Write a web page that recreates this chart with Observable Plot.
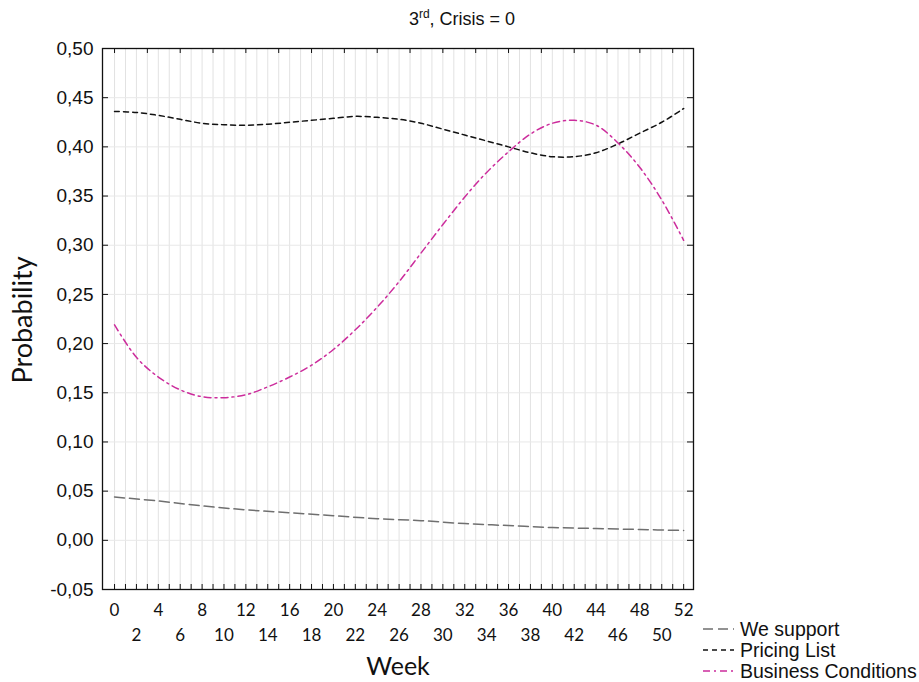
<!DOCTYPE html>
<html><head><meta charset="utf-8">
<script src="https://cdn.jsdelivr.net/npm/d3@7"></script>
<script src="https://cdn.jsdelivr.net/npm/@observablehq/plot@0.6"></script>
<style>body{margin:0;background:#fff}</style>
</head><body><div id="chart"></div>
<script>
const weeksA = [0, 4, 8, 12, 16, 20, 24, 28, 32, 36, 40, 44, 48, 52];
const weSupport = [0.044, 0.040, 0.035, 0.031, 0.028, 0.025, 0.022, 0.020, 0.017, 0.015, 0.013, 0.012, 0.011, 0.010];
const weeksB = [0, 2, 4, 6, 8, 10, 12, 14, 16, 18, 20, 22, 24, 26, 28, 30, 32, 34, 36, 38, 40, 42, 44, 46, 48, 50, 52];
const pricingList = [0.436, 0.435, 0.432, 0.428, 0.424, 0.4225, 0.422, 0.423, 0.425, 0.427, 0.429, 0.431, 0.430, 0.428, 0.424, 0.418, 0.412, 0.406, 0.400, 0.394, 0.390, 0.390, 0.394, 0.403, 0.414, 0.425, 0.439];
const businessConditions = [0.219, 0.186, 0.166, 0.153, 0.146, 0.145, 0.148, 0.156, 0.166, 0.178, 0.194, 0.214, 0.237, 0.263, 0.292, 0.321, 0.349, 0.374, 0.395, 0.413, 0.424, 0.427, 0.422, 0.404, 0.379, 0.346, 0.305];
const seriesNames = ["We support", "Pricing List", "Business Conditions"];
const seriesColors = ["#6f6f6f", "#111111", "#cc2c9c"];
const seriesDash = ["10,5", "5,4", "7,4,2,4"];
const yTicks = [-0.05, 0, 0.05, 0.10, 0.15, 0.20, 0.25, 0.30, 0.35, 0.40, 0.45, 0.50];
const xTicksRow1 = [0, 4, 8, 12, 16, 20, 24, 28, 32, 36, 40, 44, 48, 52];
const xTicksRow2 = [2, 6, 10, 14, 18, 22, 26, 30, 34, 38, 42, 46, 50];
const allWeeks = d3.range(0, 53);

const rows = [
  ...weeksA.map((w, i) => ({week: w, p: weSupport[i], s: seriesNames[0]})),
  ...weeksB.map((w, i) => ({week: w, p: pricingList[i], s: seriesNames[1]})),
  ...weeksB.map((w, i) => ({week: w, p: businessConditions[i], s: seriesNames[2]}))
];

const W = 919, H = 682, mL = 102, mR = 226, mT = 48, mB = 93;
const fw = W - mL - mR, fh = H - mT - mB;
const fmt = d => d.toFixed(2).replace(".", ",").replace("-0,00", "0,00");

const lineMarks = seriesNames.map((n, i) =>
  Plot.line(rows.filter(r => r.s === n), {x: "week", y: "p", stroke: seriesColors[i], strokeWidth: 1.5, strokeDasharray: seriesDash[i], curve: "catmull-rom"})
);

const chart = Plot.plot({
  width: W, height: H,
  marginLeft: mL, marginRight: mR, marginTop: mT, marginBottom: mB,
  style: {background: "#fff", color: "#111"},
  x: {domain: [-1.1, 52.9], axis: null},
  y: {domain: [-0.05, 0.5], axis: null},
  marks: [
    Plot.ruleX(allWeeks, {x: d => d, stroke: "#e2e2e2", strokeWidth: 1}),
    Plot.ruleY(yTicks, {y: d => d, stroke: "#e8e8e8", strokeWidth: 1}),
    ...lineMarks,
    Plot.ruleX(allWeeks, {x: d => d, stroke: "#111", insetTop: fh - 5}),
    Plot.ruleX(allWeeks.filter(d => d % 3 === 0), {x: d => d, stroke: "#111", insetBottom: fh - 5}),
    Plot.ruleY(yTicks, {y: d => d, stroke: "#111", insetRight: fw - 6}),
    Plot.ruleY(yTicks, {y: d => d, stroke: "#111", insetLeft: fw - 6}),
    Plot.frame({stroke: "#111", strokeWidth: 1.3}),
    Plot.axisY({ticks: yTicks, tickFormat: fmt, tickSize: 0, tickPadding: 9, fontSize: 19, fontFamily: "Liberation Sans, Arial, sans-serif", label: null}),
    Plot.axisX({ticks: xTicksRow1, tickFormat: d => String(d), tickSize: 0, tickPadding: 14, fontSize: 17, fontFamily: "Lato, sans-serif", label: null}),
    Plot.axisX({ticks: xTicksRow2, tickFormat: d => String(d), tickSize: 0, tickPadding: 39, fontSize: 17, fontFamily: "Lato, sans-serif", label: null})
  ]
});
document.getElementById("chart").appendChild(chart);

const svg = d3.select(chart);
const AR = "Liberation Sans, Arial, sans-serif";
// title
const t = svg.append("text").attr("x", 462).attr("y", 25)
  .style("text-anchor", "middle").style("font-family", AR).style("font-size", "18px").style("fill", "#111");
t.append("tspan").text("3");
t.append("tspan").style("font-size", "12px").attr("dy", -7).text("rd");
t.append("tspan").attr("dy", 7).text(", Crisis = 0");
// axis labels
svg.append("text").attr("x", 398).attr("y", 675)
  .style("text-anchor", "middle").style("font-family", "Lato, sans-serif").style("font-size", "25px").style("fill", "#111").text("Week");
svg.append("text").attr("transform", "translate(32,320) rotate(-90)")
  .style("text-anchor", "middle").style("font-family", "Lato, sans-serif").style("font-size", "27px").style("fill", "#111").text("Probability");
// legend
seriesNames.forEach((n, i) => {
  const cy = 629 + i * 21;
  svg.append("line").attr("x1", 703).attr("x2", 734).attr("y1", cy).attr("y2", cy)
    .attr("stroke", seriesColors[i]).attr("stroke-width", 1.5).attr("stroke-dasharray", seriesDash[i]);
  svg.append("text").attr("x", 740).attr("y", cy).attr("dy", "0.35em")
    .style("text-anchor", "start").style("font-family", AR).style("font-size", "19.5px").style("fill", "#111").text(n);
});
</script>
</body></html>
